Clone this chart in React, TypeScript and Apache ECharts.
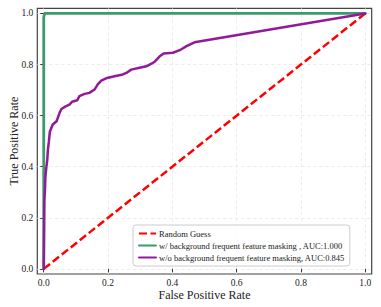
import React, { useEffect, useRef } from 'react';
import * as echarts from 'echarts';

const tickValues = [0, 0.2, 0.4, 0.6, 0.8, 1.0];
const seriesNames = [
  'Random Guess',
  'w/ background frequent feature masking , AUC:1.000',
  'w/o background frequent feature masking, AUC:0.845',
];
const randomFpr = [0, 1];
const randomTpr = [0, 1];
const withFpr = [0, 0, 0.003, 1];
const withTpr = [0, 0.985, 1, 1];
const withoutFpr = [
  0, 0.002, 0.004, 0.005, 0.008, 0.011, 0.013, 0.016, 0.019, 0.028, 0.04, 0.044, 0.049, 0.055,
  0.068, 0.08, 0.088, 0.104, 0.111, 0.127, 0.142, 0.158, 0.168, 0.179, 0.194, 0.22, 0.246,
  0.257, 0.272, 0.298, 0.319, 0.335, 0.345, 0.36, 0.373, 0.402, 0.423, 0.444, 0.454, 0.469, 1,
];
const withoutTpr = [
  0, 0.27, 0.31, 0.357, 0.396, 0.427, 0.467, 0.498, 0.537, 0.565, 0.578, 0.592, 0.61, 0.626,
  0.636, 0.643, 0.654, 0.66, 0.676, 0.685, 0.689, 0.702, 0.722, 0.737, 0.746, 0.754, 0.761,
  0.767, 0.78, 0.787, 0.793, 0.803, 0.811, 0.831, 0.843, 0.846, 0.856, 0.872, 0.878, 0.887, 1,
];

const pairs = (xs: number[], ys: number[]) => xs.map((x, i) => [x, ys[i]]);

const FONT = 'Liberation Serif';

export default function App() {
  const ref = useRef<HTMLDivElement>(null);
  useEffect(() => {
    if (!ref.current) return;
    const chart = echarts.init(ref.current, undefined, { renderer: 'svg' });
    const axisCommon = {
      type: 'value' as const,
      min: -0.02,
      max: 1.02,
      minInterval: 0.2,
      maxInterval: 0.2,
      splitNumber: 5,
      axisLine: { show: false },
      axisTick: {
        show: true,
        length: 3.5,
        customValues: tickValues,
        lineStyle: { color: '#333', width: 1 },
      },
      axisLabel: {
        customValues: tickValues,
        color: '#222',
        fontFamily: FONT,
        fontSize: 9.5,
        margin: 4,
        formatter: (v: number) => v.toFixed(1),
      },
      splitLine: {
        show: true,
        lineStyle: { color: '#e6e6e6', type: [3, 3] as any, width: 0.8 },
      },
      nameLocation: 'middle' as const,
      nameMoveOverlap: false,
      nameTextStyle: { fontFamily: FONT, fontSize: 12, color: '#222', lineHeight: 12 },
    };
    chart.setOption({
      animation: false,
      grid: {
        left: 37.3,
        right: 9.3,
        top: 8.3,
        bottom: 33,
        show: true,
        borderColor: '#444',
        borderWidth: 1.2,
        backgroundColor: 'transparent',
        outerBoundsMode: 'none',
        containLabel: false,
      },
      xAxis: { ...axisCommon, name: 'False Positive Rate', nameGap: 14.5, axisLabel: { ...axisCommon.axisLabel, lineHeight: 10 } },
      yAxis: { ...axisCommon, name: 'True Positive Rate', nameGap: 17 },
      legend: {
        orient: 'vertical',
        left: 133,
        top: 225,
        padding: [4, 5, 4, 5],
        itemWidth: 17,
        itemHeight: 8,
        itemGap: 3,
        backgroundColor: 'rgba(255,255,255,0.85)',
        borderColor: '#cccccc',
        borderWidth: 1,
        borderRadius: 3,
        itemStyle: { opacity: 0 },
        textStyle: { fontFamily: FONT, fontSize: 8.5, color: '#222', padding: [0, 0, 0, -2] },
        data: seriesNames,
      },
      series: [
        {
          name: seriesNames[0],
          type: 'line',
          data: pairs(randomFpr, randomTpr),
          symbol: 'none',
          clip: false,
          lineStyle: { color: '#ff0000', width: 2.5, type: [8, 3.5] },
          itemStyle: { color: '#ff0000' },
          z: 2,
        },
        {
          name: seriesNames[1],
          type: 'line',
          data: pairs(withFpr, withTpr),
          symbol: 'none',
          clip: false,
          lineStyle: { color: '#3c9a6c', width: 2.8, cap: 'round', join: 'round' },
          itemStyle: { color: '#3c9a6c' },
          z: 3,
        },
        {
          name: seriesNames[2],
          type: 'line',
          data: pairs(withoutFpr, withoutTpr),
          symbol: 'none',
          clip: false,
          lineStyle: { color: '#921a9a', width: 2.5, cap: 'round', join: 'round' },
          itemStyle: { color: '#921a9a' },
          z: 4,
        },
      ],
    });
    return () => chart.dispose();
  }, []);
  return <div ref={ref} style={{ width: 381, height: 307, position: 'absolute', left: 0, top: 0 }} />;
}
